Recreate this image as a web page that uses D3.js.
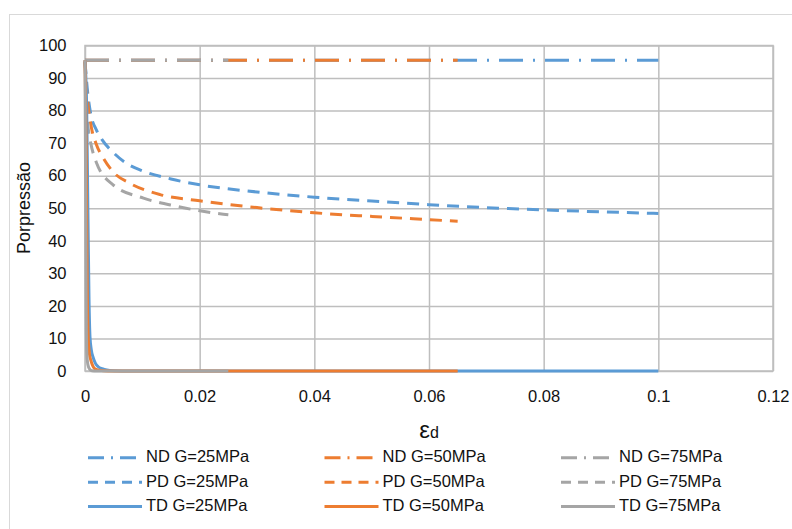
<!DOCTYPE html>
<html><head><meta charset="utf-8">
<script src="https://cdn.jsdelivr.net/npm/d3@7"></script>
<style>
html,body{margin:0;padding:0;background:#fff;}
svg{display:block;font-family:"Liberation Sans",Arial,sans-serif;}
</style></head>
<body><svg id="c" width="792" height="529"></svg>
<script>
// ---- data ----
const xTicks = [0, 0.02, 0.04, 0.06, 0.08, 0.1, 0.12];
const xTickLabels = ["0", "0.02", "0.04", "0.06", "0.08", "0.1", "0.12"];
const yTicks = [0, 10, 20, 30, 40, 50, 60, 70, 80, 90, 100];

const seriesNames = ["ND G=25MPa","ND G=50MPa","ND G=75MPa","PD G=25MPa","PD G=50MPa","PD G=75MPa","TD G=25MPa","TD G=50MPa","TD G=75MPa"];
const seriesColors = ["#5B9BD5","#ED7D31","#A5A5A5","#5B9BD5","#ED7D31","#A5A5A5","#5B9BD5","#ED7D31","#A5A5A5"];
const seriesTypes = ["ND","ND","ND","PD","PD","PD","TD","TD","TD"];

const nd25 = [[0,95.5],[0.1,95.5]];
const nd50 = [[0,95.5],[0.065,95.5]];
const nd75 = [[0,95.5],[0.025,95.5]];

const pd25 = [[0,95],[0.0005,85],[0.001,79],[0.002,74],[0.003,71],[0.005,67],[0.0075,63.5],[0.01,61.5],[0.015,59],[0.02,57.2],[0.03,55],[0.04,53.4],[0.05,52.2],[0.06,51.1],[0.07,50.2],[0.08,49.5],[0.09,48.9],[0.1,48.4]];
const pd50 = [[0,95],[0.0003,86],[0.0009,77],[0.002,69.5],[0.003,66],[0.005,61],[0.0078,57.7],[0.0131,54.2],[0.02,52.3],[0.03,50.2],[0.04,48.6],[0.05,47.5],[0.06,46.5],[0.065,46]];
const pd75 = [[0,95],[0.0003,80],[0.0006,74],[0.001,70],[0.002,64],[0.0049,57.2],[0.0102,53.1],[0.016,50.6],[0.0235,48.3],[0.025,48]];

const td25 = [[0,95.5],[0.0003,80],[0.0005,50],[0.0007,22],[0.00087,10.5],[0.0011,6.5],[0.00145,4],[0.0018,2.4],[0.0023,1.3],[0.003,0.7],[0.0038,0.3],[0.005,0.1],[0.008,0],[0.1,0]];
const td50 = [[0,95.5],[0.0002,70],[0.0003,45],[0.0004,25],[0.00058,9.5],[0.0008,5],[0.001,3.4],[0.0013,1.8],[0.0017,0.7],[0.0025,0.2],[0.004,0],[0.065,0]];
const td75 = [[0,95.5],[0.0001,60],[0.0002,20],[0.0003,6],[0.0005,2],[0.0008,0.6],[0.0012,0.1],[0.002,0],[0.025,0]];

const seriesData = [nd25, nd50, nd75, pd25, pd50, pd75, td25, td50, td75];

// ---- layout ----
const svg = d3.select("#c");
const L = 85, T = 45.5, R = 773, B = 371;
const x = d3.scaleLinear().domain([0, 0.12]).range([L, R]);
const y = d3.scaleLinear().domain([0, 100]).range([B, T]);
const gridColor = "#BEBEBE";
const textColor = "#111";
const dashes = {ND: "24,10,2,10", PD: "12,8", TD: null};

// outer chart border
svg.append("rect").attr("x", 9.5).attr("y", 14.5).attr("width", 900).attr("height", 700)
  .attr("fill", "none").attr("stroke", "#D9D9D9").attr("stroke-width", 1);

// grid + axes
const gx = svg.append("g").attr("transform", `translate(0,${B})`)
  .call(d3.axisBottom(x).tickValues(xTicks).tickFormat((d, i) => xTickLabels[i]).tickSize(-(B - T)).tickPadding(19.5));
const gy = svg.append("g").attr("transform", `translate(${L},0)`)
  .call(d3.axisLeft(y).tickValues(yTicks).tickFormat(d3.format("d")).tickSize(-(R - L)).tickPadding(18.5));
[gx, gy].forEach(g => {
  g.select(".domain").remove();
  g.selectAll(".tick line").attr("stroke", gridColor).attr("stroke-width", 1.5);
  g.selectAll(".tick text").attr("fill", textColor).style("font-size", "16.5px")
    .style("font-family", '"Liberation Sans", Arial, sans-serif');
});
svg.append("rect").attr("x", L).attr("y", T).attr("width", R - L).attr("height", B - T)
  .attr("fill", "none").attr("stroke", gridColor).attr("stroke-width", 1.5);

// series
const line = d3.line().x(d => x(d[0])).y(d => y(d[1])).curve(d3.curveMonotoneX);
seriesData.forEach((data, i) => {
  const p = svg.append("path").datum(data).attr("d", line)
    .attr("fill", "none").attr("stroke", seriesColors[i]).attr("stroke-width", 3)
    .attr("stroke-linejoin", "round");
  const da = dashes[seriesTypes[i]];
  if (da) p.attr("stroke-dasharray", da);
});

// axis titles
svg.append("text").attr("transform", "translate(30,208) rotate(-90)")
  .attr("text-anchor", "middle").attr("fill", textColor).style("font-size", "18px").text("Porpressão");
const xt = svg.append("text").attr("x", 429).attr("y", 438).attr("text-anchor", "middle").attr("fill", textColor);
xt.append("tspan").style("font-size", "24px").text("ε");
xt.append("tspan").style("font-size", "16px").text("d");

// legend
const colX = [88, 324.5, 561];
const rowY = [462.3, 486.7, 511];
seriesNames.forEach((name, i) => {
  const col = i % 3, row = Math.floor(i / 3);
  const g = svg.append("g").attr("transform", `translate(${colX[col]},${rowY[row]})`);
  const l = g.append("line").attr("x1", 0).attr("x2", 54).attr("y1", -4.5).attr("y2", -4.5)
    .attr("stroke", seriesColors[i]).attr("stroke-width", 3);
  const da = dashes[seriesTypes[i]];
  if (da) l.attr("stroke-dasharray", seriesTypes[i] === "ND" ? "16,7,2,7" : "10,7");
  g.append("text").attr("x", 58).attr("y", 0).attr("fill", textColor).style("font-size", "16.5px").text(name);
});
</script></body></html>
